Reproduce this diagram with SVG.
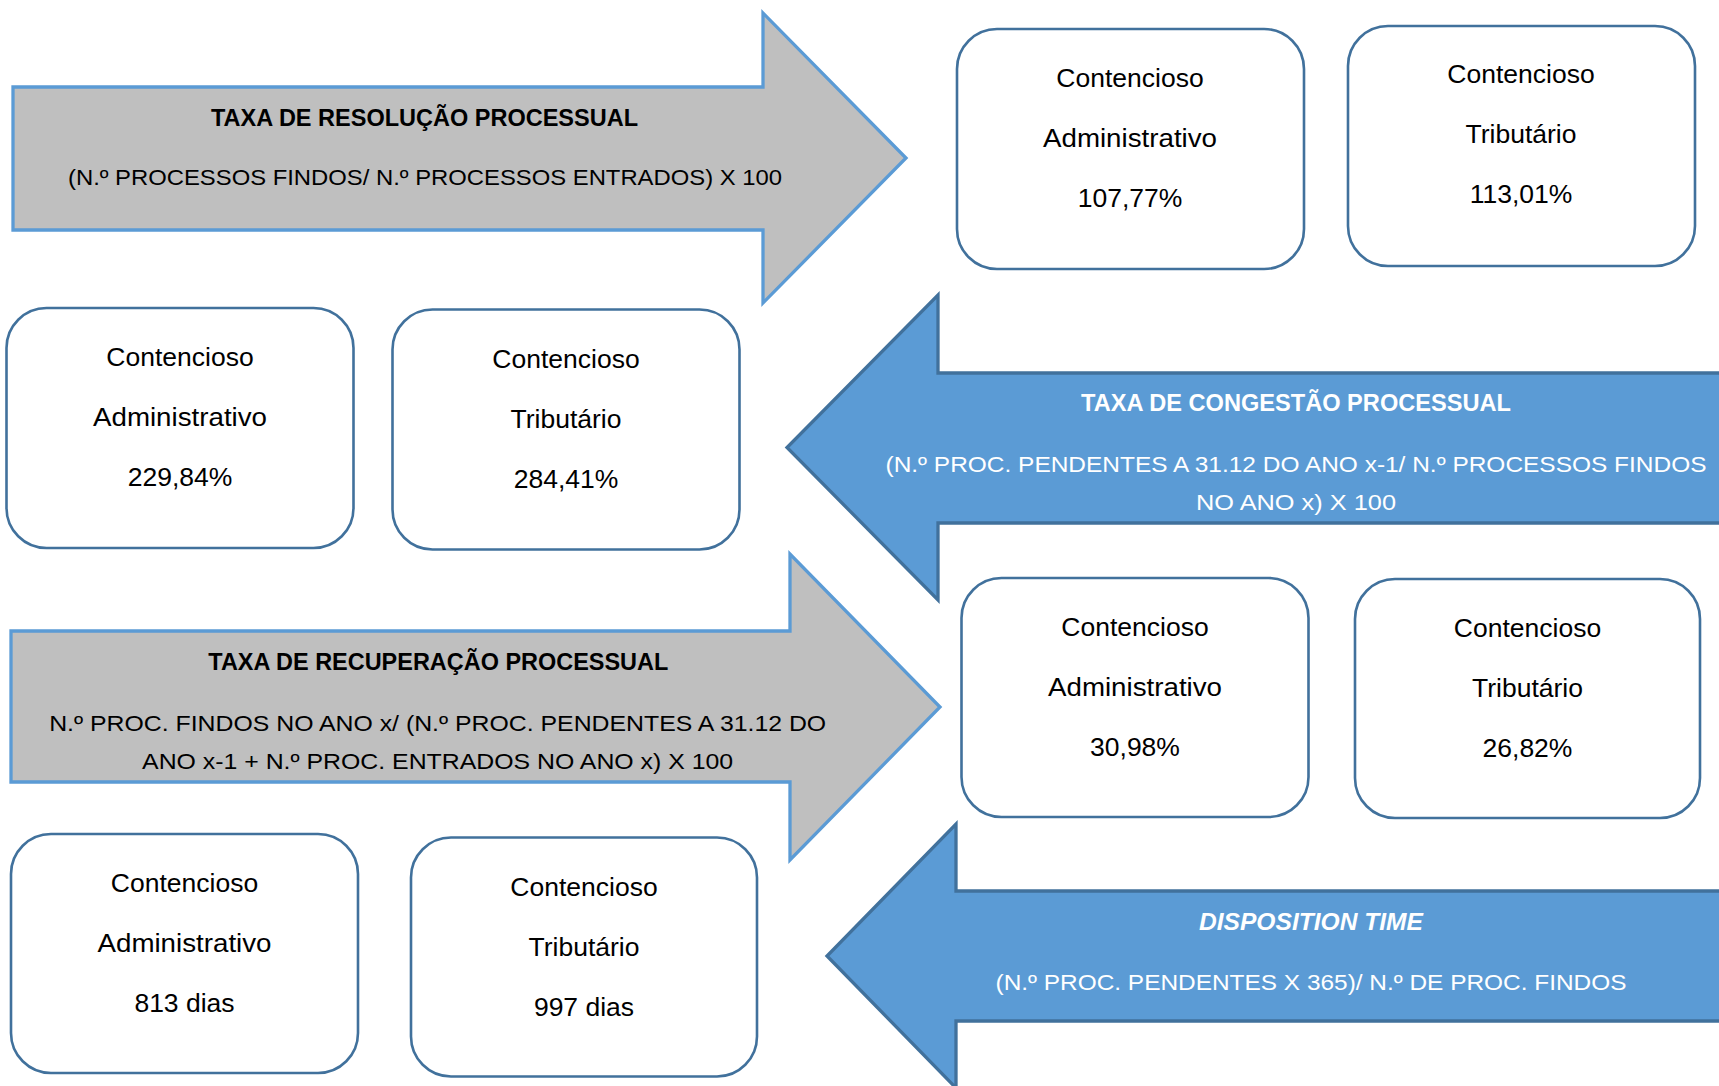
<svg xmlns="http://www.w3.org/2000/svg" width="1719" height="1086" viewBox="0 0 1719 1086">
<style>
.ga{fill:#bfbfbf;stroke:#5b9bd5;stroke-width:3.3;stroke-linejoin:miter}
.ba{fill:#5b9bd5;stroke:#41719c;stroke-width:3.3;stroke-linejoin:miter}
.box{fill:#ffffff;stroke:#41719c;stroke-width:2.6}
text{font-family:"Liberation Sans",Arial,sans-serif;text-anchor:middle}
.bt{font-size:26.5px;fill:#000}
.tk{font-size:24.5px;font-weight:bold;fill:#000}
.tw{font-size:24.5px;font-weight:bold;fill:#fff}
.fk{font-size:22.5px;fill:#000}
.fw{font-size:22.5px;fill:#fff}
</style>
<rect width="1719" height="1086" fill="#ffffff"/>
<g id="connectors">
  <g id="arrow-resolucao">
    <path class="ga" d="M13,87 H763 V13 L906,158 L763,303 V230 H13 Z"/>
    <text class="tk" x="424.5" y="126" textLength="427" lengthAdjust="spacingAndGlyphs">TAXA DE RESOLUÇÃO PROCESSUAL</text>
    <text class="fk" x="425" y="185" textLength="714" lengthAdjust="spacingAndGlyphs">(N.º PROCESSOS FINDOS/ N.º PROCESSOS ENTRADOS) X 100</text>
  </g>
  <g id="arrow-congestao">
    <path class="ba" d="M1724,373 H938 V295 L787,447.5 L938,600 V523 H1724 Z"/>
    <text class="tw" x="1296" y="411" textLength="430" lengthAdjust="spacingAndGlyphs">TAXA DE CONGESTÃO PROCESSUAL</text>
    <text class="fw" x="1296" y="472" textLength="821" lengthAdjust="spacingAndGlyphs">(N.º PROC. PENDENTES A 31.12 DO ANO x-1/ N.º PROCESSOS FINDOS</text>
    <text class="fw" x="1296" y="510" textLength="200" lengthAdjust="spacingAndGlyphs">NO ANO x) X 100</text>
  </g>
  <g id="arrow-recuperacao">
    <path class="ga" d="M11,631 H790 V554 L940,707 L790,860 V782 H11 Z"/>
    <text class="tk" x="438.3" y="670" textLength="460" lengthAdjust="spacingAndGlyphs">TAXA DE RECUPERAÇÃO PROCESSUAL</text>
    <text class="fk" x="437.7" y="731" textLength="777" lengthAdjust="spacingAndGlyphs">N.º PROC. FINDOS NO ANO x/ (N.º PROC. PENDENTES A 31.12 DO</text>
    <text class="fk" x="437.6" y="768.5" textLength="591" lengthAdjust="spacingAndGlyphs">ANO x-1 + N.º PROC. ENTRADOS NO ANO x) X 100</text>
  </g>
  <g id="arrow-disposition">
    <path class="ba" d="M1724,891 H956 V824 L827,956 L956,1088 V1021 H1724 Z"/>
    <text class="tw" x="1311" y="930" font-style="italic" textLength="224" lengthAdjust="spacingAndGlyphs">DISPOSITION TIME</text>
    <text class="fw" x="1311" y="990" textLength="631" lengthAdjust="spacingAndGlyphs">(N.º PROC. PENDENTES X 365)/ N.º DE PROC. FINDOS</text>
  </g>
</g>
<g id="box-resolucao-adm">
  <rect class="box" x="957" y="29" width="347" height="240" rx="40" ry="40"/>
  <text class="bt" x="1130" y="87">Contencioso</text>
  <text class="bt" x="1130" y="147" textLength="174" lengthAdjust="spacingAndGlyphs">Administrativo</text>
  <text class="bt" x="1130" y="207">107,77%</text>
</g>
<g id="box-resolucao-trib">
  <rect class="box" x="1348" y="26" width="347" height="240" rx="40" ry="40"/>
  <text class="bt" x="1521" y="83">Contencioso</text>
  <text class="bt" x="1521" y="143">Tributário</text>
  <text class="bt" x="1521" y="203">113,01%</text>
</g>
<g id="box-congestao-adm">
  <rect class="box" x="6.5" y="308" width="347" height="240" rx="40" ry="40"/>
  <text class="bt" x="180" y="366">Contencioso</text>
  <text class="bt" x="180" y="426" textLength="174" lengthAdjust="spacingAndGlyphs">Administrativo</text>
  <text class="bt" x="180" y="486">229,84%</text>
</g>
<g id="box-congestao-trib">
  <rect class="box" x="392.5" y="309.5" width="347" height="240" rx="40" ry="40"/>
  <text class="bt" x="566" y="368">Contencioso</text>
  <text class="bt" x="566" y="428">Tributário</text>
  <text class="bt" x="566" y="488">284,41%</text>
</g>
<g id="box-recuperacao-adm">
  <rect class="box" x="961.5" y="578" width="347" height="239" rx="40" ry="40"/>
  <text class="bt" x="1135" y="636">Contencioso</text>
  <text class="bt" x="1135" y="696" textLength="174" lengthAdjust="spacingAndGlyphs">Administrativo</text>
  <text class="bt" x="1135" y="756">30,98%</text>
</g>
<g id="box-recuperacao-trib">
  <rect class="box" x="1355" y="579" width="345" height="239" rx="40" ry="40"/>
  <text class="bt" x="1527.5" y="637">Contencioso</text>
  <text class="bt" x="1527.5" y="697">Tributário</text>
  <text class="bt" x="1527.5" y="757">26,82%</text>
</g>
<g id="box-disposition-adm">
  <rect class="box" x="11" y="834" width="347" height="239" rx="40" ry="40"/>
  <text class="bt" x="184.5" y="892">Contencioso</text>
  <text class="bt" x="184.5" y="952" textLength="174" lengthAdjust="spacingAndGlyphs">Administrativo</text>
  <text class="bt" x="184.5" y="1012">813 dias</text>
</g>
<g id="box-disposition-trib">
  <rect class="box" x="411" y="837.5" width="346" height="239" rx="40" ry="40"/>
  <text class="bt" x="584" y="896">Contencioso</text>
  <text class="bt" x="584" y="956">Tributário</text>
  <text class="bt" x="584" y="1016">997 dias</text>
</g>
</svg>
